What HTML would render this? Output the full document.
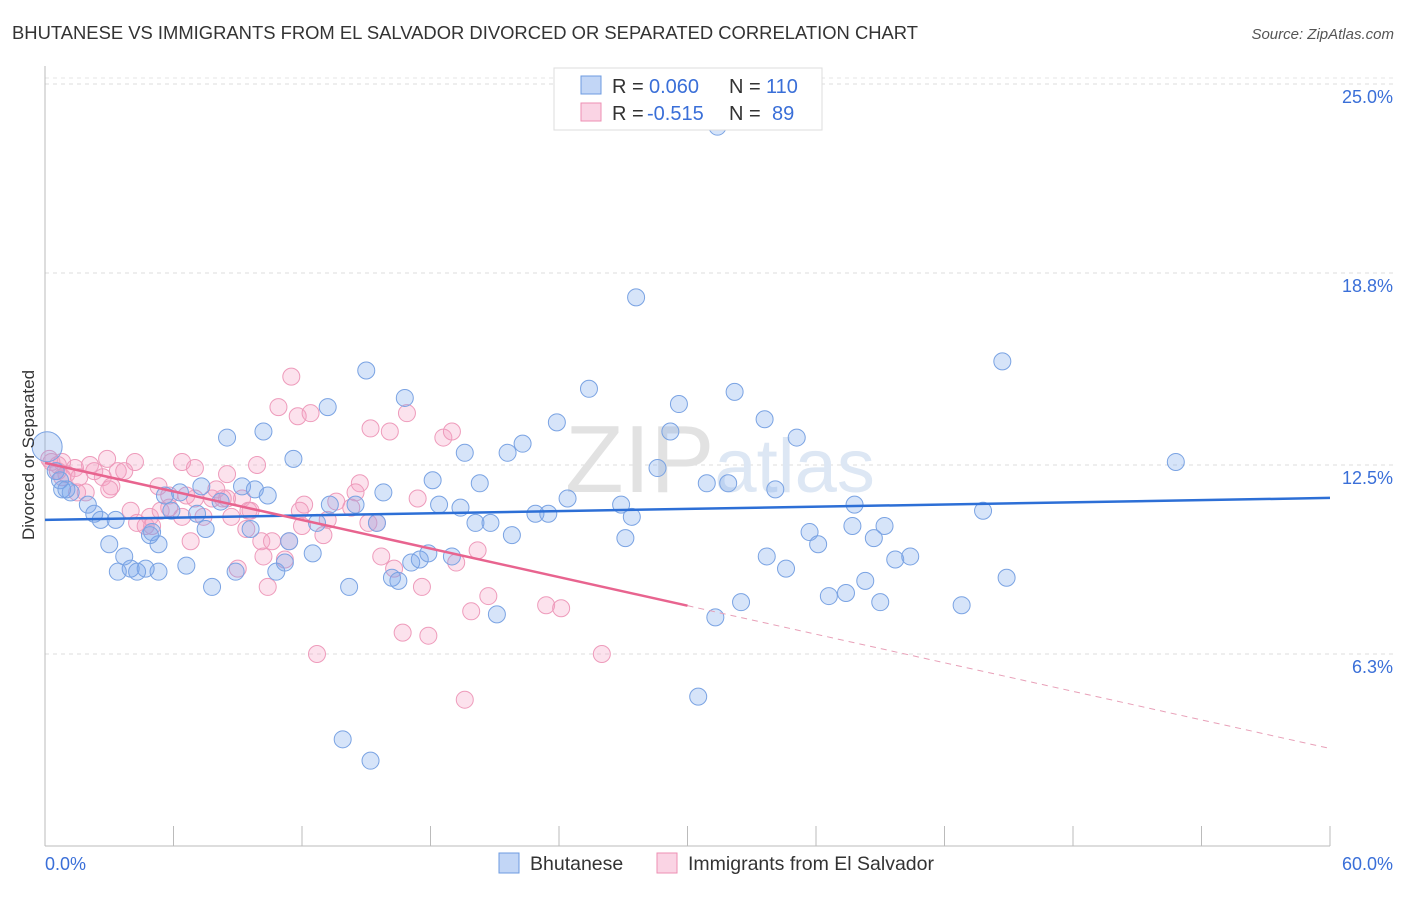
<!DOCTYPE html>
<html><head><meta charset="utf-8"><style>
body{margin:0;background:#fff;font-family:"Liberation Sans",sans-serif;}
svg text{font-family:"Liberation Sans",sans-serif;}
</style></head><body>
<svg id="chart" width="1406" height="892" xmlns="http://www.w3.org/2000/svg">
<text x="12" y="39" font-size="18" fill="#333" textLength="906" lengthAdjust="spacingAndGlyphs">BHUTANESE VS IMMIGRANTS FROM EL SALVADOR DIVORCED OR SEPARATED CORRELATION CHART</text>
<text x="1394" y="39" font-size="15" fill="#555" text-anchor="end" font-style="italic">Source: ZipAtlas.com</text>
<g id="grid"></g>
<text x="720" y="492" font-size="96" fill="#ebebeb" text-anchor="middle" font-family="Liberation Serif"><tspan fill="#e2e2e2">ZIP</tspan><tspan fill="#dde7f4" font-family="Liberation Sans" font-size="76">atlas</tspan></text>
<g id="pts"></g>
<g id="lines"></g>
<text transform="translate(34,455) rotate(-90)" font-size="17" fill="#333" text-anchor="middle">Divorced or Separated</text>
<g>
<rect x="554" y="68" width="268" height="62" fill="#fff" stroke="#ddd"/>
<rect x="581" y="76" width="20" height="18" fill="rgba(120,165,235,0.45)" stroke="#6d9be0"/>
<text x="612" y="93" font-size="20" fill="#333">R =</text>
<text x="649" y="93" font-size="20" fill="#3a6fd8">0.060</text>
<text x="729" y="93" font-size="20" fill="#333">N =</text>
<text x="766" y="93" font-size="20" fill="#3a6fd8">110</text>
<rect x="581" y="103" width="20" height="18" fill="rgba(245,160,195,0.45)" stroke="#ee8fb3"/>
<text x="612" y="120" font-size="20" fill="#333">R =</text>
<text x="647" y="120" font-size="20" fill="#3a6fd8">-0.515</text>
<text x="729" y="120" font-size="20" fill="#333">N =</text>
<text x="772" y="120" font-size="20" fill="#3a6fd8">89</text>
</g>
<g>
<rect x="499" y="853" width="20" height="20" fill="rgba(120,165,235,0.45)" stroke="#6d9be0"/>
<text x="530" y="870" font-size="19.5" fill="#333">Bhutanese</text>
<rect x="657" y="853" width="20" height="20" fill="rgba(245,160,195,0.45)" stroke="#ee8fb3"/>
<text x="688" y="870" font-size="19.5" fill="#333">Immigrants from El Salvador</text>
</g>
</svg>
<script>
const blueX=[31.4,27.6,44.7,15.0,25.4,16.8,32.2,13.2,29.6,23.9,33.6,10.2,8.5,29.2,35.1,22.3,19.6,21.6,11.6,28.6,52.8,18.1,20.3,30.9,31.9,34.1,15.8,9.2,9.8,7.3,10.4,6.3,5.6,8.2,5.9,3.3,0.8,1.2,2.0,2.6,2.3,7.5,9.6,5.0,11.4,12.7,13.3,14.5,15.5,18.4,19.4,20.1,20.8,21.8,22.9,23.5,24.4,26.9,27.4,27.1,37.8,37.7,39.2,43.8,35.7,36.1,38.7,33.7,34.6,39.7,40.4,44.9,38.3,37.4,36.6,39.0,42.8,32.5,31.3,21.1,14.2,7.8,8.9,10.8,12.5,6.6,5.3,4.7,4.0,4.3,3.4,3.7,3.0,5.3,16.2,16.5,17.1,17.5,17.9,19.0,30.5,13.9,15.2,0.1,0.5,0.7,1.0,11.2,4.9,7.1];
const blueY=[23.6,18.0,15.9,15.6,15.0,14.7,14.9,14.4,14.5,13.9,14.0,13.6,13.4,13.6,13.4,13.2,12.9,12.9,12.7,12.4,12.6,12.0,11.9,11.9,11.9,11.7,11.6,11.8,11.7,11.8,11.5,11.6,11.5,11.3,11.0,10.7,11.7,11.6,11.2,10.7,10.9,10.4,10.4,10.3,10.0,10.6,11.2,11.2,10.6,11.2,11.1,10.6,10.6,10.2,10.9,10.9,11.4,11.2,10.8,10.1,11.2,10.5,10.5,11.0,10.3,9.9,10.1,9.5,9.1,9.4,9.5,8.8,8.7,8.3,8.2,8.0,7.9,8.0,7.5,7.6,8.5,8.5,9.0,9.0,9.6,9.2,9.0,9.1,9.1,9.0,9.0,9.5,9.9,9.9,8.8,8.7,9.3,9.4,9.6,9.5,4.9,3.5,2.8,13.1,12.3,12.0,11.7,9.3,10.2,10.9];
const pinkX=[11.5,10.9,11.8,12.4,15.2,16.1,18.6,19.0,6.4,7.0,8.5,9.9,4.2,2.9,3.4,2.1,1.4,0.8,0.2,0.6,1.0,1.5,1.9,2.7,3.1,3.7,5.3,5.8,6.6,7.0,7.8,8.0,9.2,9.5,12.1,13.6,14.7,14.5,13.2,12.0,13.0,15.1,15.5,17.4,4.0,4.3,4.9,4.7,5.4,6.4,7.4,8.7,9.6,10.1,10.6,11.4,9.4,10.2,11.2,6.8,5.0,15.7,16.3,17.6,19.2,20.2,20.7,19.9,23.4,24.1,16.7,17.9,12.7,19.6,26.0,10.4,9.0,14.3,16.9,11.9,5.8,0.3,0.6,0.8,1.6,8.5,3.0,2.3,8.3];
const pinkY=[15.4,14.4,14.1,14.2,13.7,13.6,13.4,13.6,12.6,12.4,12.2,12.5,12.6,12.7,12.3,12.5,12.4,12.6,12.7,12.5,12.2,11.6,11.6,12.1,11.8,12.3,11.8,11.5,11.5,11.4,11.4,11.7,11.4,11.0,11.2,11.3,11.9,11.6,10.7,10.5,10.2,10.6,10.6,11.4,11.0,10.6,10.8,10.5,11.0,10.8,10.8,10.8,11.0,10.0,10.0,10.0,10.4,9.5,9.4,10.0,10.5,9.5,9.1,8.5,9.3,9.7,8.2,7.7,7.9,7.8,7.0,6.9,6.3,4.8,6.3,8.5,9.1,11.1,14.2,11.0,11.1,12.6,12.3,12.1,12.1,11.4,11.7,12.3,11.4];
const yTicks=[25.0,18.8,12.5,6.3];
const blueTrend=[10.7,11.42];
const pinkTrend=[12.57,3.2];
const pinkSolidEnd=30;
const NS="http://www.w3.org/2000/svg";
const X=v=>45+v*(1285/60), Y=v=>846-v*30.48;
function mk(t,a,p){const e=document.createElementNS(NS,t);for(const k in a)e.setAttribute(k,a[k]);(p||document.getElementById('chart')).appendChild(e);return e;}
const g=document.getElementById('grid');
yTicks.forEach(t=>{
 const l=mk('line',{x1:45,x2:1394,y1:Y(t),y2:Y(t),stroke:'#ddd','stroke-dasharray':'4,4'},g);
 
 
 const tx=mk('text',{x:1393,y:Y(t)+19,'font-size':18,fill:'#3a6fd8','text-anchor':'end'},g);
 tx.textContent=t.toFixed(1)+'%';
 
 
});
mk('line',{x1:45,x2:1394,y1:78,y2:78,stroke:'#e4e4e4','stroke-dasharray':'4,4'},g);
mk('line',{x1:45,x2:45,y1:66,y2:846,stroke:'#bbb'},g);
mk('line',{x1:45,x2:1330,y1:846,y2:846,stroke:'#bbb'},g);
for(let i=0;i<=10;i++){const t=mk('line',{x1:X(i*6),x2:X(i*6),y1:826,y2:846,stroke:'#bbb'},g);
 
 }
const x0=mk('text',{x:45,y:870,'font-size':18,fill:'#3a6fd8'},g);x0.textContent='0.0%';


const x1=mk('text',{x:1393,y:870,'font-size':18,fill:'#3a6fd8','text-anchor':'end'},g);x1.textContent='60.0%';


const P=document.getElementById('pts');
pinkX.forEach((x,i)=>{const c=mk('circle',{cx:X(x),cy:Y(pinkY[i]),r:8.5,fill:'rgba(245,160,195,0.3)',stroke:'#ee9bbb','stroke-width':1},P);
 
 });
blueX.forEach((x,i)=>{const c=mk('circle',{cx:X(x),cy:Y(blueY[i]),r:i==blueX.length-7?15:8.5,fill:'rgba(120,165,235,0.3)',stroke:'#7aa3e3','stroke-width':1},P);
 
 });
const L=document.getElementById('lines');
const b=mk('line',{x1:X(0),y1:Y(blueTrend[0]),x2:X(60),y2:Y(blueTrend[1]),stroke:'#2d6fd6','stroke-width':2.5},L);


const pm=pinkTrend[0]+(pinkTrend[1]-pinkTrend[0])*pinkSolidEnd/60;
const p1=mk('line',{x1:X(0),y1:Y(pinkTrend[0]),x2:X(pinkSolidEnd),y2:Y(pm),stroke:'#e8648f','stroke-width':2.5},L);


const p2=mk('line',{x1:X(pinkSolidEnd),y1:Y(pm),x2:X(60),y2:Y(pinkTrend[1]),stroke:'#e8a0b8','stroke-width':1,'stroke-dasharray':'6,5'},L);


</script>
</body></html>
